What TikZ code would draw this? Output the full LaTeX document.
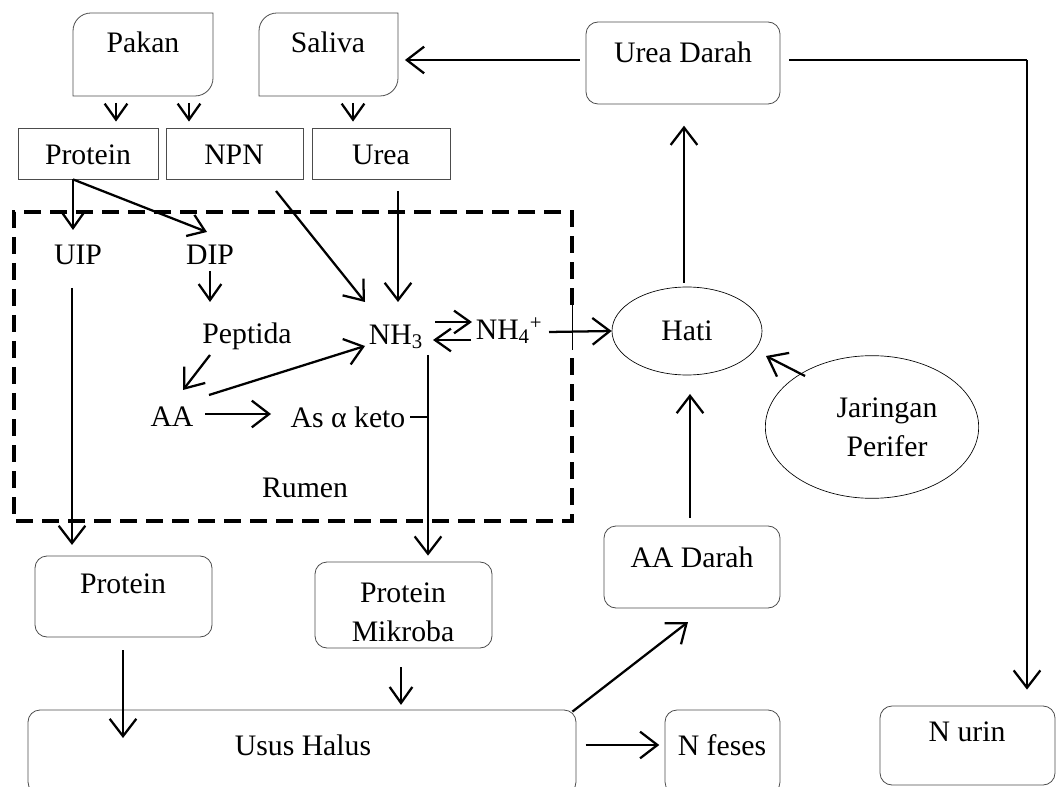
\documentclass[tikz,border=0pt]{standalone}
\usepackage{fontspec}
\setmainfont{Liberation Serif}
\usetikzlibrary{arrows.meta,shapes.geometric,fit,calc}
\begin{document}
\begin{tikzpicture}[x=0.75pt,y=-0.75pt,
  txt/.style={font=\fontsize{22.3}{29}\selectfont, inner sep=1pt, align=center},
  rbox/.style={draw=black!70, line width=0.6pt, rounded corners=9pt, inner sep=0pt},
  sbox/.style={draw=black!70, line width=0.6pt, inner sep=0pt},
  hbox/.style={inner sep=0pt},
  oval/.style={draw=black, line width=0.5pt, ellipse, inner sep=0pt},
  arr/.style={line width=1.7pt, -{Straight Barb[length=13pt,width=20pt,line width=1.7pt]}},
  sarr/.style={line width=1.7pt, -{Straight Barb[length=12pt,width=17pt,line width=1.7pt]}},
  ln/.style={line width=1.7pt},
  outline/.style={draw=black!70, line width=0.6pt},
  rumenframe/.style={line width=3pt, dash pattern=on 12.5pt off 7pt}]
\useasboundingbox (0,0) rectangle (1059,787);

% ---------- boxes ----------
\node[hbox, fit={(73,13) (213,96)}] (pakan) {};
\draw[outline] (73,96) -- (73,31) .. controls (73,21) and (81,13) .. (91,13) -- (213,13) -- (213,78) .. controls (213,88) and (205,96) .. (195,96) -- cycle;
\node[hbox, fit={(259,13) (398,96)}] (saliva) {};
\draw[outline] (259,96) -- (259,31) .. controls (259,21) and (267,13) .. (277,13) -- (398,13) -- (398,78) .. controls (398,88) and (390,96) .. (380,96) -- cycle;
\node[rbox, fit={(586,22) (780,104)}] (ureadarah) {};
\node[sbox, fit={(18,128) (158,179)}] (protein1) {};
\node[sbox, fit={(166,128) (303,179)}] (npn) {};
\node[sbox, fit={(312,128) (450,179)}] (urea) {};
\node[rbox, fit={(35,556) (212,637)}] (protein2) {};
\node[rbox, fit={(315,562) (492,648)}] (mikroba) {};
\node[rbox, fit={(604,526) (780,608)}] (aadarah) {};
\node[rbox, fit={(28,710) (576,794)}] (usus) {};
\node[rbox, fit={(665,710) (780,794)}] (nfeses) {};
\node[rbox, fit={(880,706) (1055,785)}] (nurin) {};

\node[oval, minimum width=112.5pt, minimum height=66pt] (hati) at (687,331) {};
\node[oval, minimum width=160pt, minimum height=107pt] (jaringan) at (872,427) {};

% rumen frame
\draw[rumenframe] (572,305) -- (572,212) -- (14,212) -- (14,521) -- (572,521) -- (572,350);
\draw[line width=0.5pt] (572,305) -- (572,350);

% ---------- texts ----------
\node[txt] (t-pakan) at (143,42) {Pakan};
\node[txt] (t-saliva) at (328,42) {Saliva};
\node[txt] (t-ureadarah) at (683,52) {Urea Darah};
\node[txt] (t-protein1) at (88,155) {Protein};
\node[txt] (t-npn) at (234,155) {NPN};
\node[txt] (t-urea) at (381,155) {Urea};
\node[txt] (uip) at (78,255) {UIP};
\node[txt] (dip) at (210,255) {DIP};
\node[txt] (peptida) at (247,336) {Peptida};
\node[txt] (nh3) at (396,337) {NH\textsubscript{3}};
\node[txt] (nh4) at (509,331) {NH\textsubscript{4}\textsuperscript{+}};
\node[txt] (t-hati) at (687,331) {Hati};
\node[txt] (t-jaringan) at (887,427) {Jaringan\\Perifer};
\node[txt] (aa) at (172,417) {AA};
\node[txt] (keto) at (348,417) {As α keto};
\node[txt] (rumen) at (305,488) {Rumen};
\node[txt] (t-protein2) at (123,584) {Protein};
\node[txt] (t-mikroba) at (403,612) {Protein\\Mikroba};
\node[txt] (t-aadarah) at (692,557) {AA Darah};
\node[txt] (t-usus) at (303,745) {Usus Halus};
\node[txt] (t-nfeses) at (722,745) {N feses};
\node[txt] (t-nurin) at (967,732) {N urin};

% ---------- column coordinates ----------
\coordinate (c116) at (116,0);
\coordinate (c189) at (189,0);
\coordinate (c353) at (353,0);
\coordinate (c73) at (73,0);
\coordinate (c1027) at (1027,0);
\coordinate (r60) at (0,60);

% ---------- connectors ----------
\draw[sarr, shorten <=5pt, shorten >=4.5pt] (pakan.south -| c116) -- (protein1.north -| c116);
\draw[sarr, shorten <=5pt, shorten >=4.5pt] (pakan.south -| c189) -- (npn.north -| c189);
\draw[sarr, shorten <=5pt, shorten >=4.5pt] (saliva.south -| c353) -- (urea.north -| c353);
\draw[arr, shorten <=4.5pt, shorten >=5pt] (ureadarah.west |- r60) -- (saliva.east |- r60);
\draw[ln, shorten <=6.5pt] (ureadarah.east |- r60) -- (c1027 |- r60) coordinate (corner);
\draw[arr, shorten >=12pt] (corner) -- (nurin.north -| c1027);

\draw[sarr] (protein1.south -| c73) -- (73,230) coordinate (uiptip);
\draw[sarr] (protein1.south -| c73) -- (207,232) coordinate (diptip);
\draw[arr] (276,191) coordinate (npnfoot) -- (365,302) coordinate (nh3a);
\draw[arr] (398,191) coordinate (ureafoot) -- (398,302) coordinate (nh3b);
\draw[sarr] (210,271) coordinate (dipfoot) -- (210,302) coordinate (peptop);
\draw[arr] (210,355) coordinate (pepfoot) -- (183,390) coordinate (aatop);
\draw[arr] (209,395) coordinate (aane) -- (365,346) coordinate (nh3w);
\draw[arr] (205,414) coordinate (aae) -- (271,414) coordinate (ketow);
\draw[sarr] (435,322) coordinate (e1) -- (472,322) coordinate (e2);
\draw[sarr] (471,340) coordinate (e3) -- (433,340) coordinate (e4);
\draw[arr] (549,332) coordinate (nh4e) -- (hati.west);
\draw[ln] (410,417) coordinate (ketoe) -- (428,417);
\draw[arr, shorten >=4.5pt] (428,355) coordinate (nh3s) -- (mikroba.north -| nh3s);
\draw[arr, shorten >=8pt] (72,288) coordinate (uipfoot) -- (protein2.north -| uipfoot);

\draw[arr] ([yshift=-9.75pt]protein2.south -| t-protein2) coordinate (p2s) -- (123,738) coordinate (ususin);
\draw[sarr, shorten <=14pt, shorten >=3.5pt] (mikroba.south -| 401,0) coordinate (ms) -- (usus.north -| ms);
\draw[arr] (usus.north east) ++(-4,2) coordinate (ususne) -- (688,622) coordinate (aads);
\draw[arr, shorten <=7pt, shorten >=4pt] (usus.east |- t-usus) -- (nfeses.west |- t-usus);
\draw[arr, shorten <=6pt, shorten >=14pt] (aadarah.north -| 690,0) coordinate (aan) -- (hati.south -| aan);
\draw[arr, shorten <=3pt, shorten >=16pt] (hati.north -| 684,0) coordinate (hn) -- (ureadarah.south -| hn);
\draw[arr] (805,376) coordinate (jw) -- (766,356) coordinate (hse);
\end{tikzpicture}
\end{document}
